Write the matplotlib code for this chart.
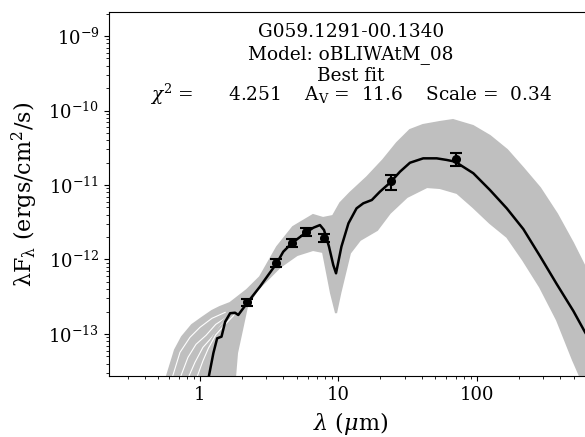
import numpy as np
import matplotlib
matplotlib.use("Agg")
import matplotlib.pyplot as plt
from matplotlib.ticker import FuncFormatter, NullFormatter

plt.rcParams['font.family'] = 'DejaVu Serif'
plt.rcParams['mathtext.fontset'] = 'dejavuserif'

# observed fluxes
wav = [2.17, 3.55, 4.59, 5.8, 7.85, 23.8, 70.5]
flux = [2.67e-13, 9.0e-13, 1.68e-12, 2.33e-12, 1.95e-12, 1.12e-11, 2.23e-11]
err = [0.32e-13, 1.0e-13, 2.0e-13, 2.8e-13, 2.3e-13, 2.6e-12, 4.2e-12]

# best-fit model
best_wav = [1.1, 1.16, 1.25, 1.33, 1.43, 1.52, 1.65, 1.79, 1.89, 2.05, 2.23, 2.71,
            3.11, 3.58, 3.99, 4.59, 5.73, 6.58, 7.35, 7.86, 8.54, 9.17, 9.60,
            10.5, 11.8, 13.5, 15.1, 17.4, 19.9, 23.5, 27.8, 32.8, 40.9, 51.2,
            60.4, 69.4, 94.0, 124, 164, 216, 285, 376, 496, 602, 700]
best_flux = [1.5e-14, 2.73e-14, 5.56e-14, 8.75e-14, 9.2e-14, 1.46e-13, 1.90e-13,
             1.93e-13, 1.80e-13, 2.21e-13, 2.72e-13, 4.32e-13, 6.19e-13, 8.89e-13,
             1.27e-12, 1.65e-12, 2.25e-12, 2.67e-12, 2.90e-12, 2.49e-12, 1.49e-12,
             8.43e-13, 6.53e-13, 1.49e-12, 3.06e-12, 4.86e-12, 5.68e-12, 6.29e-12,
             8.13e-12, 1.07e-11, 1.51e-11, 1.99e-11, 2.28e-11, 2.28e-11, 2.17e-11,
             2.06e-11, 1.44e-11, 8.57e-12, 4.86e-12, 2.56e-12, 1.11e-12, 4.69e-13,
             2.04e-13, 1.06e-13, 6.7e-14]

# envelope of all good-fit models (log10 flux)
up_wav = [0.5, 0.578, 0.66, 0.741, 0.875, 1.03, 1.22, 1.39, 1.65, 2.18, 2.71, 3.60,
          4.69, 6.55, 7.73, 9.12, 10.3, 12.1, 16.1, 21.0, 26.4, 32.8, 40.7, 54.0,
          67.1, 93.6, 124, 165, 215, 285, 378, 493, 602, 773]
up_logf = [-14.1, -13.564, -13.215, -13.040, -12.879, -12.785, -12.691, -12.638,
           -12.584, -12.409, -12.235, -11.832, -11.564, -11.403, -11.443, -11.416,
           -11.242, -11.107, -10.893, -10.664, -10.436, -10.262, -10.195, -10.154,
           -10.128, -10.208, -10.342, -10.530, -10.772, -11.040, -11.389, -11.779,
           -12.101, -12.477]
lo_wav = [1.75, 1.79, 1.85, 2.01, 2.18, 2.58, 3.05, 3.78, 5.02, 6.55, 7.73, 8.83,
          9.60, 10.3, 12.1, 14.3, 19.0, 23.5, 31.2, 43.5, 54.0, 71.8, 93.6, 124,
          165, 215, 285, 378, 493, 554, 600]
lo_logf = [-14.1, -13.577, -13.255, -12.946, -12.638, -12.409, -12.275, -12.101,
           -11.940, -11.872, -11.899, -12.450, -12.718, -12.450, -11.913, -11.738,
           -11.604, -11.376, -11.161, -11.027, -11.040, -11.107, -11.295, -11.510,
           -11.698, -12.007, -12.369, -12.812, -13.349, -13.564, -14.1]

# a few individual models visible at short wavelengths (log10 flux)
m1_wav = [0.6, 0.628, 0.717, 0.847, 1.0, 1.22, 1.52]
m1_logf = [-13.8, -13.564, -13.215, -13.013, -12.879, -12.758, -12.678]
m2_wav = [0.68, 0.717, 0.819, 0.936, 1.105, 1.30, 1.59]
m2_logf = [-13.8, -13.564, -13.282, -13.107, -12.987, -12.839, -12.732]
m3_wav = [0.78, 0.819, 0.920, 1.05, 1.22, 1.44, 1.70]
m3_logf = [-13.8, -13.564, -13.349, -13.148, -13.013, -12.839, -12.705]
m4_wav = [0.9, 0.95, 1.05, 1.15, 1.3, 1.5, 1.75]
m4_logf = [-13.8, -13.55, -13.33, -13.16, -12.98, -12.85, -12.72]

fig = plt.figure(figsize=(5.85, 4.37), dpi=100)
ax = fig.add_axes([0.1863, 0.1396, 0.8274, 0.8329])

grey = '0.75'
env_x = np.concatenate([up_wav, lo_wav[::-1]])
env_y = 10.0 ** np.concatenate([up_logf, lo_logf[::-1]])
ax.fill(env_x, env_y, color=grey, lw=1.5, zorder=1)
for mw, mf in [(m1_wav, m1_logf), (m2_wav, m2_logf), (m3_wav, m3_logf), (m4_wav, m4_logf)]:
    ax.plot(mw, 10.0 ** np.array(mf), color=grey, lw=1.5, zorder=1)
    ax.plot(mw, 10.0 ** np.array(mf) * 0.93, color='white', lw=0.8, zorder=1)

ax.plot(best_wav, best_flux, color='black', lw=1.8, zorder=3)
ax.errorbar(wav, flux, yerr=err, fmt='o', color='black', ms=5.5,
            capsize=4, capthick=1.5, elinewidth=1.5, zorder=4)

ax.set_xscale('log')
ax.set_yscale('log')
ax.set_xlim(0.2203, 688)
ax.set_ylim(2.73e-14, 2.1e-9)
ax.xaxis.set_major_formatter(FuncFormatter(lambda v, p: '%g' % v))
ax.xaxis.set_minor_formatter(NullFormatter())
ax.tick_params(labelsize=13)

ax.set_xlabel(r'$\lambda$ ($\mu$m)', fontsize=16, labelpad=4.5)
ax.set_ylabel(r'$\mathrm{\lambda F_\lambda}$ (ergs/cm$^2$/s)', fontsize=16, labelpad=6)

fs = 13.3
ax.text(0.5, 0.9305, 'G059.1291-00.1340', transform=ax.transAxes,
        ha='center', va='baseline', fontsize=fs)
ax.text(0.5, 0.870, 'Model: oBLIWAtM_08', transform=ax.transAxes,
        ha='center', va='baseline', fontsize=fs)
ax.text(0.5, 0.8104, 'Best fit', transform=ax.transAxes,
        ha='center', va='baseline', fontsize=fs)
ax.text(0.5, 0.7563, r'$\chi^2$ =      4.251    A$_\mathrm{V}$ =  11.6    Scale =  0.34',
        transform=ax.transAxes, ha='center', va='baseline', fontsize=fs)

fig.savefig('out.png', dpi=100)
